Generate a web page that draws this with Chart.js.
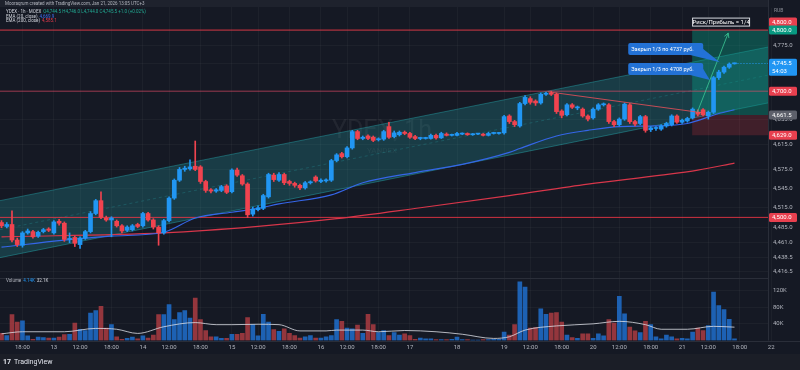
<!DOCTYPE html>
<html lang="ru">
<head>
<meta charset="utf-8">
<title>YDEX 1h</title>
<script src="https://cdn.jsdelivr.net/npm/chart.js@4.4.1/dist/chart.umd.min.js"></script>
<style>
  html, body { margin: 0; padding: 0; background: #151924; }
  canvas { display: block; }
</style>
</head>
<body>
<canvas id="ydexChart" width="800" height="370"></canvas>
<script>
// торговые сессии (день, первый и последний час)
const sessionDays  = [12, 13, 14, 15, 16, 17, 18, 19, 20, 21, 22];
const sessionOpen  = [14, 7, 7, 7, 7, 10, 10, 7, 7, 7, 7];
const sessionClose = [23, 23, 23, 23, 23, 18, 18, 23, 23, 23, 7];

// свечи YDEX, 1ч
const opens = [
  4492, 4486, 4489, 4465, 4457, 4476, 4478, 4471, 4478, 4482,
  4476, 4494, 4491, 4466, 4469, 4458, 4468, 4478, 4506, 4526,
  4499, 4496, 4494, 4487, 4480, 4481, 4489, 4487, 4506, 4496,
  4485, 4476, 4495, 4530, 4558, 4575, 4576, 4580, 4579, 4556,
  4543, 4541, 4542, 4549, 4540, 4574, 4565, 4552, 4505, 4512,
  4514, 4532, 4566, 4558, 4567, 4556, 4553, 4550, 4546, 4554,
  4563, 4556, 4557, 4558, 4589, 4600, 4595, 4609, 4635, 4624,
  4628, 4626, 4622, 4623, 4643, 4627, 4630, 4634, 4632, 4627,
  4624, 4624, 4624, 4629, 4625, 4631, 4629, 4629, 4631, 4632,
  4630, 4631, 4631, 4629, 4632, 4632, 4633, 4660, 4651, 4644,
  4680, 4688, 4684, 4681, 4695, 4697, 4695, 4668, 4662, 4678,
  4673, 4671, 4660, 4657, 4671, 4678, 4678, 4651, 4646, 4655,
  4678, 4651, 4648, 4659, 4638, 4640, 4639, 4644, 4646, 4660,
  4650, 4652, 4657, 4666, 4670, 4660, 4666, 4722, 4731, 4739,
  4744.5
];
const highs = [
  4495, 4492, 4510, 4468, 4478, 4482, 4480, 4479, 4483, 4484,
  4495, 4497, 4493, 4476, 4471, 4470, 4480, 4509, 4528, 4540,
  4502, 4501, 4496, 4489, 4487, 4489, 4491, 4508, 4508, 4498,
  4487, 4497, 4532, 4560, 4578, 4580, 4590, 4620, 4581, 4558,
  4545, 4545, 4550, 4551, 4576, 4577, 4567, 4554, 4516, 4518,
  4536, 4569, 4569, 4570, 4569, 4558, 4555, 4552, 4556, 4557,
  4565, 4560, 4560, 4591, 4600, 4602, 4611, 4637, 4637, 4628,
  4630, 4628, 4625, 4637, 4650, 4636, 4636, 4636, 4634, 4629,
  4626, 4626, 4631, 4631, 4634, 4633, 4631, 4634, 4633, 4633,
  4632, 4632, 4632, 4634, 4634, 4634, 4661, 4662, 4653, 4682,
  4693, 4691, 4686, 4697, 4698, 4700, 4697, 4670, 4680, 4680,
  4676, 4673, 4662, 4673, 4680, 4681, 4680, 4653, 4657, 4681,
  4680, 4653, 4661, 4661, 4643, 4643, 4646, 4650, 4662, 4662,
  4655, 4658, 4673, 4670, 4672, 4668, 4724, 4734, 4741, 4746,
  4746
];
const lows = [
  4484, 4484, 4462, 4455, 4454, 4474, 4468, 4469, 4476, 4478,
  4474, 4488, 4463, 4461, 4455, 4452, 4466, 4476, 4504, 4498,
  4494, 4470, 4485, 4476, 4478, 4479, 4484, 4485, 4494, 4482,
  4457, 4474, 4493, 4528, 4556, 4572, 4574, 4573, 4553, 4539,
  4538, 4539, 4540, 4537, 4538, 4564, 4550, 4500, 4502, 4510,
  4512, 4530, 4556, 4556, 4551, 4550, 4547, 4543, 4544, 4552,
  4555, 4554, 4555, 4556, 4587, 4593, 4593, 4607, 4622, 4622,
  4622, 4619, 4620, 4621, 4624, 4625, 4628, 4630, 4624, 4622,
  4622, 4623, 4623, 4623, 4624, 4628, 4628, 4628, 4630, 4629,
  4629, 4630, 4628, 4628, 4631, 4631, 4631, 4648, 4643, 4642,
  4678, 4679, 4677, 4679, 4693, 4693, 4664, 4657, 4660, 4672,
  4670, 4658, 4652, 4655, 4669, 4676, 4648, 4643, 4644, 4653,
  4648, 4644, 4646, 4634, 4635, 4637, 4637, 4642, 4644, 4648,
  4648, 4650, 4655, 4660, 4660, 4655, 4664, 4719, 4729, 4737,
  4744
];
const closes = [
  4487, 4489, 4465, 4458, 4476, 4479, 4470, 4477, 4481, 4480,
  4493, 4491, 4466, 4467, 4460, 4468, 4478, 4506, 4526, 4500,
  4496, 4499, 4487, 4479, 4485, 4487, 4486, 4506, 4496, 4485,
  4476, 4495, 4530, 4558, 4575, 4577, 4579, 4575, 4556, 4542,
  4541, 4543, 4548, 4539, 4574, 4566, 4552, 4504, 4513, 4515,
  4534, 4567, 4559, 4567, 4554, 4553, 4550, 4546, 4554, 4555,
  4557, 4558, 4557.5, 4589, 4598, 4595, 4609, 4635, 4624, 4626,
  4624, 4621, 4622.5, 4635, 4626, 4633, 4634, 4632, 4626, 4624,
  4624.5, 4624.5, 4629, 4625, 4632, 4629, 4629.5, 4632, 4631.5, 4630,
  4631, 4631.5, 4629, 4632, 4632.5, 4632.5, 4659, 4651, 4646, 4680,
  4690, 4682, 4681, 4695, 4696, 4695, 4667, 4661, 4678, 4674,
  4673.5, 4660, 4655, 4671, 4678, 4678.5, 4651, 4646, 4655, 4679,
  4651, 4647, 4659, 4637, 4641, 4640.5, 4644, 4648, 4660, 4650,
  4653, 4656, 4671, 4663, 4662, 4666, 4722, 4731, 4739, 4744,
  4745.5
];
// объём, тыс.
const volumes = [
  17, 12, 62, 44, 47, 11, 3, 8, 7, 6,
  6, 8, 14, 15, 42, 27, 24, 66, 72, 82,
  30, 38, 9, 3, 5, 8, 4, 11, 6, 13,
  62, 62, 86, 50, 67, 72, 54, 102, 50, 24,
  9, 9, 5, 5, 15, 15, 17, 55, 38, 11,
  63, 44, 26, 22, 28, 17, 12, 6, 9, 12,
  6, 6, 9, 12, 50, 46, 30, 28, 37, 17,
  63, 38, 19, 24, 12, 19, 13, 16, 12, 3,
  6, 4, 4, 2, 2, 2, 3, 8, 2, 2,
  1, 1, 2, 2, 3, 3, 20, 13, 38, 141,
  128, 30, 31, 76, 63, 66, 67, 44, 13, 7,
  5, 16, 16, 5, 16, 11, 50, 42, 106, 64,
  32, 23, 19, 46, 38, 9, 4, 13, 9, 4,
  5, 4, 20, 30, 24, 36, 116, 84, 74, 51,
  4
];

// индикаторы (номер бара, значение)
const ema20Idx  = [0, 12, 21, 31, 37, 44, 49, 53, 63, 69, 79, 88, 97, 99, 106, 112, 118, 125, 131, 137, 140];
const ema20     = [4454, 4465, 4471, 4477, 4499, 4508, 4514, 4521, 4535, 4554, 4570, 4583, 4602, 4608, 4628, 4637, 4643, 4644, 4648, 4664, 4670];
const ema200Idx = [0, 31, 49, 64, 80, 97, 112, 126, 133, 140];
const ema200    = [4470, 4476, 4486, 4498, 4515, 4534, 4552, 4566, 4574, 4585];
const volMaIdx  = [0, 4, 12, 18, 22, 26, 31, 37, 41, 44, 49, 53, 57, 62, 64, 69, 72, 77, 83, 88, 94, 97, 100, 106, 113, 118, 123, 126, 131, 136, 140];
const volMa     = [16, 21, 21, 29, 27, 17, 33, 43, 38, 38, 39, 38, 23, 23, 25, 25, 21, 24, 21, 15, 5, 9, 25, 35, 40, 46, 38, 27, 27, 34, 32];

// канал линейной регрессии: цена на левом и правом краю
const channelUpper = [4526, 4772];
const channelMid   = [4481, 4726];
const channelLower = [4438, 4681];

// уровни и позиция
const levels       = [4800, 4700, 4500];
const positionFrom = 131.9;
const positionTarget = 4800;
const positionEntry  = 4661.5;
const positionStop   = 4629;
const trendIdx   = [104.4, 134];
const trendPrice = [4699, 4665];
const arrowIdx   = [132.9, 138.8];
const arrowPrice = [4666, 4795];

const priceTicks  = [4800, 4775, 4745, 4700, 4655, 4615, 4575, 4545, 4515, 4485, 4461, 4438.5, 4416.5];
const volumeTicks = [40, 80, 120];

const callouts = [
  { text: 'Закрыл 1/3 по 4737 руб.', idx: 119.7, price: 4778.6, tipIdx: 137.2, tipPrice: 4747 },
  { text: 'Закрыл 1/3 по 4708 руб.', idx: 119.7, price: 4745.8, tipIdx: 135.3, tipPrice: 4718 }
];

const X_MIN = -0.29;
const X_MAX = 146.4;

const UP = '#2196f3';
const DOWN = '#f0434f';
const FONT = 'Roboto, "Liberation Sans", sans-serif';

// подписи времени по сессиям
const slots = [];
sessionDays.forEach(function(day, k) {
    for (let h = sessionOpen[k]; h <= sessionClose[k]; h++) {
        slots.push({ day: day, hour: h, first: h === sessionOpen[k], len: sessionClose[k] - sessionOpen[k] + 1 });
    }
});
const xTickMap = {};
slots.forEach(function(s, i) {
    if (i === 0) return;
    if (s.first) xTickMap[i] = String(s.day);
    else if ((s.hour === 12 || s.hour === 18) && s.len >= 10) xTickMap[i] = s.hour + ':00';
});

function fmtPrice(v) {
    return v.toLocaleString('en-US', { minimumFractionDigits: 1, maximumFractionDigits: 1 });
}
function pairs(idx, vals) {
    return idx.map(function(x, i) { return { x: x, y: vals[i] }; });
}
function span(a, b) {
    return [{ x: X_MIN, y: a }, { x: X_MAX, y: b }];
}
function hline(v, from) {
    return [{ x: from, y: v }, { x: X_MAX, y: v }];
}
// без лишних отступов под подписи
function noPad(scale) {
    scale.paddingTop = 0;
    scale.paddingBottom = 0;
    scale.paddingLeft = 0;
    scale.paddingRight = 0;
}

const isUp = opens.map(function(o, i) { return closes[i] >= o; });

function lineDs(data, color, extra) {
    return Object.assign({
        type: 'line', data: data, yAxisID: 'y', borderColor: color, borderWidth: 1,
        pointRadius: 0, fill: false, tension: 0
    }, extra || {});
}

const datasets = [
    lineDs(span(channelLower[0], channelLower[1]), 'rgba(40,185,190,0.4)', { order: 30 }),
    lineDs(span(channelUpper[0], channelUpper[1]), 'rgba(40,185,190,0.4)', { order: 29, fill: '-1', backgroundColor: 'rgba(40,185,190,0.22)' }),
    lineDs(span(channelMid[0], channelMid[1]), 'rgba(40,185,190,0.22)', { order: 28, borderDash: [3, 3] }),
    lineDs(hline(positionTarget, positionFrom), 'rgba(0,0,0,0)', { order: 27 }),
    lineDs(hline(positionEntry, positionFrom), 'rgba(0,0,0,0)', { order: 26, fill: '-1', backgroundColor: 'rgba(8,153,129,0.4)' }),
    lineDs(hline(positionStop, positionFrom), 'rgba(0,0,0,0)', { order: 25, fill: '-1', backgroundColor: 'rgba(242,54,69,0.2)' }),
    lineDs(hline(levels[0], X_MIN), 'rgba(242,54,69,0.85)', { order: 20 }),
    lineDs(hline(levels[1], X_MIN), 'rgba(236,70,100,0.6)', { order: 20 }),
    lineDs(hline(levels[2], X_MIN), 'rgba(242,54,69,0.85)', { order: 20 }),
    {
        type: 'bar', yAxisID: 'v', order: 18, grouped: false, barThickness: 4,
        data: volumes.map(function(v, i) { return { x: i, y: v }; }),
        backgroundColor: isUp.map(function(u) { return u ? 'rgba(30,110,205,0.85)' : 'rgba(170,60,66,0.85)'; })
    },
    lineDs(pairs(volMaIdx, volMa), 'rgba(220,222,230,0.8)', { yAxisID: 'v', order: 17, cubicInterpolationMode: 'monotone' }),
    lineDs(pairs(ema200Idx, ema200), '#d8364a', { order: 12, borderWidth: 1.2, cubicInterpolationMode: 'monotone' }),
    lineDs(pairs(ema20Idx, ema20), '#3566e8', { order: 11, borderWidth: 1.2, cubicInterpolationMode: 'monotone' }),
    {
        type: 'bar', yAxisID: 'y', order: 6, grouped: false, barThickness: 1,
        data: lows.map(function(l, i) { return { x: i, y: [l, highs[i]] }; }),
        backgroundColor: isUp.map(function(u) { return u ? UP : DOWN; })
    },
    {
        type: 'bar', yAxisID: 'y', order: 5, grouped: false, barThickness: 4, minBarLength: 1,
        data: opens.map(function(o, i) { return { x: i, y: [o, closes[i]] }; }),
        backgroundColor: isUp.map(function(u) { return u ? UP : DOWN; })
    },
    lineDs(pairs(trendIdx, trendPrice), 'rgba(240,80,90,0.8)', { order: 4 })
];

function roundRect(ctx, x, y, w, h, r) {
    ctx.beginPath();
    ctx.moveTo(x + r, y);
    ctx.arcTo(x + w, y, x + w, y + h, r);
    ctx.arcTo(x + w, y + h, x, y + h, r);
    ctx.arcTo(x, y + h, x, y, r);
    ctx.arcTo(x, y, x + w, y, r);
    ctx.closePath();
}

function priceTag(ctx, y, text, bg, sub) {
    const h = sub ? 17 : 9;
    ctx.fillStyle = bg;
    roundRect(ctx, 769, y - 4.5, 28, h, 1.5);
    ctx.fill();
    ctx.fillStyle = '#ffffff';
    ctx.font = '6px ' + FONT;
    ctx.textAlign = 'left';
    ctx.textBaseline = 'middle';
    ctx.fillText(text, 772, y);
    if (sub) ctx.fillText(sub, 772, y + 8);
}

function segments(ctx, x, y, parts, size) {
    ctx.font = size + 'px ' + FONT;
    ctx.textAlign = 'left';
    ctx.textBaseline = 'middle';
    parts.forEach(function(p) {
        ctx.fillStyle = p[1];
        ctx.fillText(p[0], x, y);
        x += ctx.measureText(p[0]).width + 2;
    });
}

const overlay = {
    id: 'overlay',
    beforeDraw(chart) {
        const ctx = chart.ctx;
        ctx.save();
        ctx.fillStyle = '#151924';
        ctx.fillRect(0, 0, chart.width, chart.height);
        ctx.restore();
    },
    beforeDatasetsDraw(chart) {
        const ctx = chart.ctx;
        const ys = chart.scales.y;
        const cx = (chart.chartArea.left + chart.chartArea.right) / 2 - 2;
        const cy = (ys.top + ys.bottom) / 2;
        ctx.save();
        ctx.fillStyle = 'rgba(255,255,255,0.06)';
        ctx.textAlign = 'center';
        ctx.textBaseline = 'middle';
        ctx.font = '25px ' + FONT;
        ctx.fillText('YDEX, 1h', cx, cy - 7);
        ctx.font = '8px ' + FONT;
        ctx.fillText('YANDEX', cx, cy + 12);
        ctx.restore();
    },
    afterDraw(chart) {
        const ctx = chart.ctx;
        const xs = chart.scales.x, ys = chart.scales.y, vs = chart.scales.v;
        const area = chart.chartArea;
        ctx.save();

        // разделители панелей
        ctx.strokeStyle = '#2a2e39';
        ctx.lineWidth = 1;
        ctx.beginPath();
        ctx.moveTo(0, Math.round(vs.top) + 0.5); ctx.lineTo(area.right, Math.round(vs.top) + 0.5);
        ctx.moveTo(0, Math.round(area.bottom) + 0.5); ctx.lineTo(chart.width, Math.round(area.bottom) + 0.5);
        ctx.moveTo(area.right + 0.5, 0); ctx.lineTo(area.right + 0.5, area.bottom);
        ctx.stroke();

        // стрелка цели
        const ax0 = xs.getPixelForValue(arrowIdx[0]), ay0 = ys.getPixelForValue(arrowPrice[0]);
        const ax1 = xs.getPixelForValue(arrowIdx[1]), ay1 = ys.getPixelForValue(arrowPrice[1]);
        const ang = Math.atan2(ay1 - ay0, ax1 - ax0);
        ctx.strokeStyle = 'rgba(60,200,150,0.8)';
        ctx.beginPath();
        ctx.moveTo(ax0, ay0); ctx.lineTo(ax1, ay1);
        ctx.moveTo(ax1, ay1); ctx.lineTo(ax1 - 5 * Math.cos(ang - 0.5), ay1 - 5 * Math.sin(ang - 0.5));
        ctx.moveTo(ax1, ay1); ctx.lineTo(ax1 - 5 * Math.cos(ang + 0.5), ay1 - 5 * Math.sin(ang + 0.5));
        ctx.stroke();

        // линия текущей цены
        const lastY = Math.round(ys.getPixelForValue(closes[closes.length - 1])) + 0.5;
        ctx.strokeStyle = UP;
        ctx.setLineDash([1, 2]);
        ctx.beginPath();
        ctx.moveTo(xs.getPixelForValue(closes.length - 1) + 3, lastY);
        ctx.lineTo(area.right, lastY);
        ctx.stroke();
        ctx.setLineDash([]);

        // выноски
        callouts.forEach(function(c) {
            const bx = xs.getPixelForValue(c.idx), by = ys.getPixelForValue(c.price);
            const tx = xs.getPixelForValue(c.tipIdx), ty = ys.getPixelForValue(c.tipPrice);
            ctx.fillStyle = '#2372d6';
            ctx.beginPath();
            ctx.moveTo(bx + 62, by + 12); ctx.lineTo(tx, ty); ctx.lineTo(bx + 75, by + 6);
            ctx.closePath();
            ctx.fill();
            roundRect(ctx, bx, by, 75, 12, 2);
            ctx.fill();
            ctx.fillStyle = '#ffffff';
            ctx.font = '5.5px ' + FONT;
            ctx.textAlign = 'left';
            ctx.textBaseline = 'middle';
            ctx.fillText(c.text, bx + 3, by + 6.5);
        });

        // риск/прибыль
        const rx = xs.getPixelForValue(positionFrom), ry = ys.getPixelForValue(4820.7);
        ctx.fillStyle = '#151924';
        ctx.fillRect(rx, ry, 58, 9);
        ctx.strokeStyle = '#d8dae0';
        ctx.strokeRect(rx + 0.5, ry + 0.5, 57, 8);
        ctx.fillStyle = '#ffffff';
        ctx.font = '6px ' + FONT;
        ctx.textAlign = 'center';
        ctx.textBaseline = 'middle';
        ctx.fillText('Риск/Прибыль = 1/4', rx + 29, ry + 4.8);

        // метки на шкале цены
        ctx.fillStyle = '#151924';
        ctx.fillRect(area.right + 1, 0, 31, 8);
        ctx.fillStyle = '#8a8d96';
        ctx.font = '5px ' + FONT;
        ctx.textAlign = 'left';
        ctx.fillText('RUB', 774, 11);
        priceTag(ctx, ys.getPixelForValue(levels[0]) - 8, fmtPrice(levels[0]), '#e8404f');
        priceTag(ctx, ys.getPixelForValue(positionTarget), fmtPrice(positionTarget), '#089981');
        priceTag(ctx, ys.getPixelForValue(closes[closes.length - 1]), fmtPrice(closes[closes.length - 1]), '#2196f3', '54:03');
        priceTag(ctx, ys.getPixelForValue(levels[1]), fmtPrice(levels[1]), '#e8404f');
        priceTag(ctx, ys.getPixelForValue(positionEntry), fmtPrice(positionEntry), '#5d606b');
        priceTag(ctx, ys.getPixelForValue(positionStop), fmtPrice(positionStop), '#e8404f');
        priceTag(ctx, ys.getPixelForValue(levels[2]), fmtPrice(levels[2]), '#e8404f');

        // шапка
        ctx.fillStyle = '#1e222d';
        ctx.fillRect(0, 0, area.right, 7);
        segments(ctx, 5, 3.5, [['Mooraqrum created with TradingView.com, Jan 21, 2026 13:05 UTC+3', '#b2b5be']], 4.5);
        segments(ctx, 6, 12, [['YDEX · 1h · MOEX', '#d1d4dc'], ['O4,744.5 H4,746.0 L4,744.0 C4,745.5 +1.0 (+0.02%)', '#22ab94']], 4.5);
        segments(ctx, 6, 16.5, [['EMA (20, close)', '#d1d4dc'], ['4,669.9', '#3d6ef0']], 4.5);
        segments(ctx, 6, 21, [['EMA (200, close)', '#d1d4dc'], ['4,585.1', '#e23a4a']], 4.5);
        segments(ctx, 6, vs.top + 3, [['Volume', '#b2b5be'], ['4.14K', '#2196f3'], ['32.1K', '#d1d4dc']], 4.5);

        // подвал
        ctx.fillStyle = '#1b1e27';
        ctx.fillRect(0, 354, chart.width, chart.height - 354);
        ctx.fillStyle = '#e0e3eb';
        ctx.font = 'bold 7px ' + FONT;
        ctx.textAlign = 'left';
        ctx.textBaseline = 'middle';
        ctx.fillText('17', 3, 362);
        ctx.font = '7px ' + FONT;
        ctx.fillText('TradingView', 14, 362);
        ctx.restore();
    }
};

new Chart(document.getElementById('ydexChart'), {
    type: 'bar',
    data: { datasets: datasets },
    plugins: [overlay],
    options: {
        responsive: false,
        animation: false,
        layout: { padding: 0 },
        plugins: { legend: { display: false }, tooltip: { enabled: false } },
        scales: {
            x: {
                type: 'linear', min: X_MIN, max: X_MAX, offset: false,
                grid: { color: 'rgba(255,255,255,0.035)', drawTicks: false, offset: false },
                border: { display: false },
                afterBuildTicks: function(scale) {
                    scale.ticks = Object.keys(xTickMap).map(function(k) { return { value: Number(k) }; });
                },
                afterFit: function(scale) { scale.height = 29.5; noPad(scale); },
                ticks: {
                    autoSkip: false, maxRotation: 0, padding: 3, color: '#b2b5be',
                    font: { family: FONT, size: 6 },
                    callback: function(value) { return xTickMap[value] || ''; }
                }
            },
            y: {
                type: 'logarithmic', position: 'right', stack: 'panes', stackWeight: 278,
                min: 4407, max: 4850, beginAtZero: false,
                grid: { color: 'rgba(255,255,255,0.035)', drawTicks: false },
                border: { display: false },
                afterBuildTicks: function(scale) {
                    scale.ticks = priceTicks.map(function(v) { return { value: v }; });
                },
                afterFit: function(scale) { scale.width = 32; noPad(scale); },
                ticks: {
                    autoSkip: false, padding: 5, color: '#b2b5be',
                    font: { family: FONT, size: 6 },
                    callback: function(value) { return fmtPrice(value); }
                }
            },
            v: {
                type: 'linear', position: 'right', stack: 'panes', stackWeight: 62.5,
                min: 0, max: 150,
                grid: { color: 'rgba(255,255,255,0.035)', drawTicks: false },
                border: { display: false },
                afterBuildTicks: function(scale) {
                    scale.ticks = volumeTicks.map(function(v) { return { value: v }; });
                },
                afterFit: function(scale) { scale.width = 32; noPad(scale); },
                ticks: {
                    autoSkip: false, padding: 5, color: '#b2b5be',
                    font: { family: FONT, size: 6 },
                    callback: function(value) { return value + 'K'; }
                }
            }
        }
    }
});
</script>
</body>
</html>
